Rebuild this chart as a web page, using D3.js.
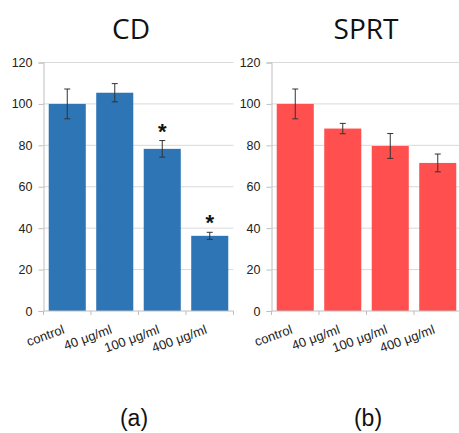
<!DOCTYPE html>
<html>
<head>
<meta charset="UTF-8">
<script src="https://d3js.org/d3.v7.min.js"></script>
<style>
  body { margin: 0; background: #fff; }
  svg text { font-family: "Liberation Sans", Arial, sans-serif; }
</style>
</head>
<body>
<svg id="fig" width="459" height="433"></svg>
<script>
// data
const categories = ["control", "40 μg/ml", "100 μg/ml", "400 μg/ml"];
const cdValues = [100, 105.4, 78.3, 36.3];
const cdErrors = [7.2, 4.4, 4.0, 1.7];
const cdStars = [false, false, true, true];
const sprtValues = [100, 88.1, 79.7, 71.5];
const sprtErrors = [7.2, 2.5, 6.0, 4.3];
const sprtStars = [false, false, false, false];
const yTicks = [0, 20, 40, 60, 80, 100, 120];

const svg = d3.select("#fig");

function panel(opts) {
  const x0 = opts.left, x1 = opts.left + 190;
  const yTop = 62.5, yBot = 311;
  const x = d3.scaleBand().domain(categories).range([x0, x1]).paddingInner(0.22).paddingOuter(0.11);
  const y = d3.scaleLinear().domain([0, 120]).range([yBot, yTop]);
  const g = svg.append("g");

  // gridlines
  g.selectAll(".grid").data(yTicks.slice(1)).enter().append("line")
    .attr("x1", x0).attr("x2", x1)
    .attr("y1", d => y(d)).attr("y2", d => y(d))
    .attr("stroke", "#d9d9d9").attr("stroke-width", 1);

  // y axis
  const ya = g.append("g").attr("transform", `translate(${x0},0)`)
    .call(d3.axisLeft(y).tickValues(yTicks).tickSize(5).tickPadding(6));
  ya.select(".domain").attr("stroke", "#bfbfbf");
  ya.selectAll(".tick line").attr("stroke", "#bfbfbf");
  ya.selectAll(".tick text").attr("font-size", 12.5).attr("fill", "#222")
    .attr("font-family", "Liberation Sans, Arial, sans-serif");

  // bars
  g.selectAll(".bar").data(opts.values).enter().append("rect")
    .attr("x", (d, i) => x(categories[i]))
    .attr("y", d => y(d))
    .attr("width", x.bandwidth())
    .attr("height", d => yBot - y(d))
    .attr("fill", opts.color);

  // x axis with ticks between categories
  const bounds = d3.range(categories.length + 1).map(i => x0 + i * (x1 - x0) / categories.length);
  g.append("line").attr("x1", x0).attr("x2", x1).attr("y1", yBot).attr("y2", yBot)
    .attr("stroke", "#bfbfbf");
  g.selectAll(".xt").data(bounds).enter().append("line")
    .attr("x1", d => d).attr("x2", d => d).attr("y1", yBot).attr("y2", yBot + 4)
    .attr("stroke", "#bfbfbf");

  // error bars
  const eb = g.selectAll(".err").data(opts.values).enter().append("g")
    .attr("stroke", "#333").attr("stroke-width", 1);
  eb.append("line")
    .attr("x1", (d, i) => x(categories[i]) + x.bandwidth() / 2)
    .attr("x2", (d, i) => x(categories[i]) + x.bandwidth() / 2)
    .attr("y1", (d, i) => y(d + opts.errors[i]))
    .attr("y2", (d, i) => y(d - opts.errors[i]));
  [1, -1].forEach(s => {
    eb.append("line")
      .attr("x1", (d, i) => x(categories[i]) + x.bandwidth() / 2 - 3)
      .attr("x2", (d, i) => x(categories[i]) + x.bandwidth() / 2 + 3)
      .attr("y1", (d, i) => y(d + s * opts.errors[i]))
      .attr("y2", (d, i) => y(d + s * opts.errors[i]));
  });

  // significance stars
  categories.forEach((c, i) => {
    if (!opts.stars[i]) return;
    g.append("text")
      .attr("x", x(c) + x.bandwidth() / 2)
      .attr("y", y(opts.values[i] + opts.errors[i]) - 2)
      .attr("text-anchor", "middle")
      .attr("font-size", 22).attr("font-weight", "bold").attr("fill", "#111")
      .text("*");
  });

  // category labels, rotated
  g.selectAll(".xl").data(categories).enter().append("text")
    .attr("transform", d => `translate(${x(d) + x.bandwidth() / 2 - 2},${yBot + 22}) rotate(-20)`)
    .attr("text-anchor", "end")
    .attr("font-size", 13).attr("fill", "#222")
    .text(d => d);

  // title
  svg.append("text").attr("x", opts.titleX).attr("y", 39)
    .attr("text-anchor", "middle")
    .attr("font-size", 28).attr("fill", "#111")
    .style("font-family", "'Open Sans', 'Noto Sans', sans-serif")
    .text(opts.title);

  // panel letter
  svg.append("text").attr("x", opts.letterX).attr("y", 426)
    .attr("text-anchor", "middle")
    .attr("font-size", 23).attr("fill", "#111")
    .text(opts.letter);
}

panel({ left: 43.5, values: cdValues, errors: cdErrors, stars: cdStars,
  color: "#2e75b6", title: "CD", titleX: 131, letter: "(a)", letterX: 134 });
panel({ left: 271.5, values: sprtValues, errors: sprtErrors, stars: sprtStars,
  color: "#ff4f4f", title: "SPRT", titleX: 366, letter: "(b)", letterX: 368 });
</script>
</body>
</html>
